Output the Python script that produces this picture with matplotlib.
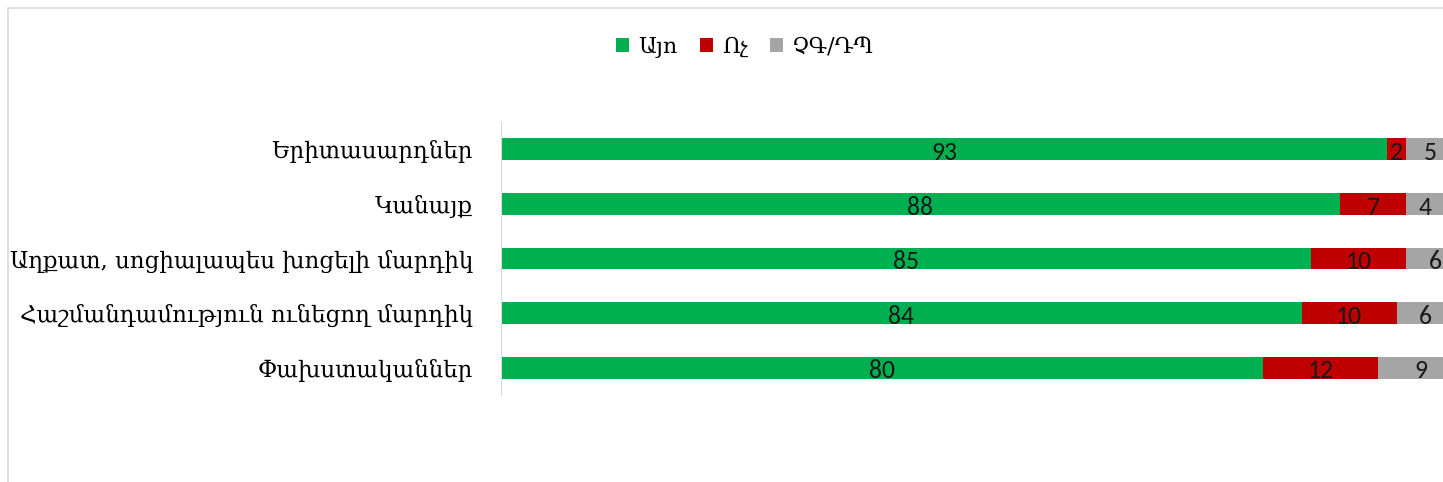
import matplotlib
matplotlib.use('Agg')
import matplotlib.pyplot as plt
from matplotlib.patches import Rectangle
import numpy as np

categories = ['Երիտասարդներ', 'Կանայք', 'Աղքատ, սոցիալապես խոցելի մարդիկ',
              'Հաշմանդամություն ունեցող մարդիկ', 'Փախստականներ']
yes_vals = [93, 88, 85, 84, 80]
no_vals = [2, 7, 10, 10, 12]
dk_vals = [5, 4, 6, 6, 9]
series_names = ['Այո', 'Ոչ', 'ՉԳ/ԴՊ']
colors = ['#00B050', '#C00000', '#A5A5A5']

W, H = 1443, 482
fig = plt.figure(figsize=(W / 100, H / 100), dpi=100)

# chart frame (cropped on the right and bottom)
fig.patches.append(Rectangle((8 / W, -0.1), 1.2, 1.1 - 8 / H, transform=fig.transFigure,
                             fill=False, edgecolor='#D9D9D9', linewidth=1.2))

ax = fig.add_axes([501 / W, 1 - 395 / H, 953 / W, 273 / H])
y = np.arange(len(categories))
left = np.zeros(len(categories))
for vals, name, c in zip([yes_vals, no_vals, dk_vals], series_names, colors):
    bars = ax.barh(y, vals, left=left, height=0.4, color=c, label=name)
    for b, v in zip(bars, vals):
        ax.text(b.get_x() + b.get_width() / 2, b.get_y() + b.get_height() / 2 + 0.06, str(v),
                ha='center', va='center', fontsize=18.5, color='#1a1a1a',
                family=['Carlito', 'Liberation Sans', 'DejaVu Sans'], clip_on=False)
    left += np.array(vals)

ax.set_xlim(0, 100)
ax.set_ylim(len(categories) - 0.5, -0.5)
ax.set_yticks(y)
ax.set_yticklabels(categories, fontsize=16.5, family=['DejaVu Serif', 'DejaVu Sans'])
ax.tick_params(axis='y', length=0, pad=20)
ax.set_xticks([])
for s in ['top', 'right', 'bottom']:
    ax.spines[s].set_visible(False)
ax.spines['left'].set_color('#D9D9D9')

leg = fig.legend(loc='center', bbox_to_anchor=(745 / W, 1 - 47 / H), ncol=3, frameon=False,
                 prop={'family': ['DejaVu Serif', 'DejaVu Sans'], 'size': 16},
                 handlelength=0.6, handleheight=0.6, handletextpad=0.4, columnspacing=1.0)

fig.savefig('out.png', dpi=100)
